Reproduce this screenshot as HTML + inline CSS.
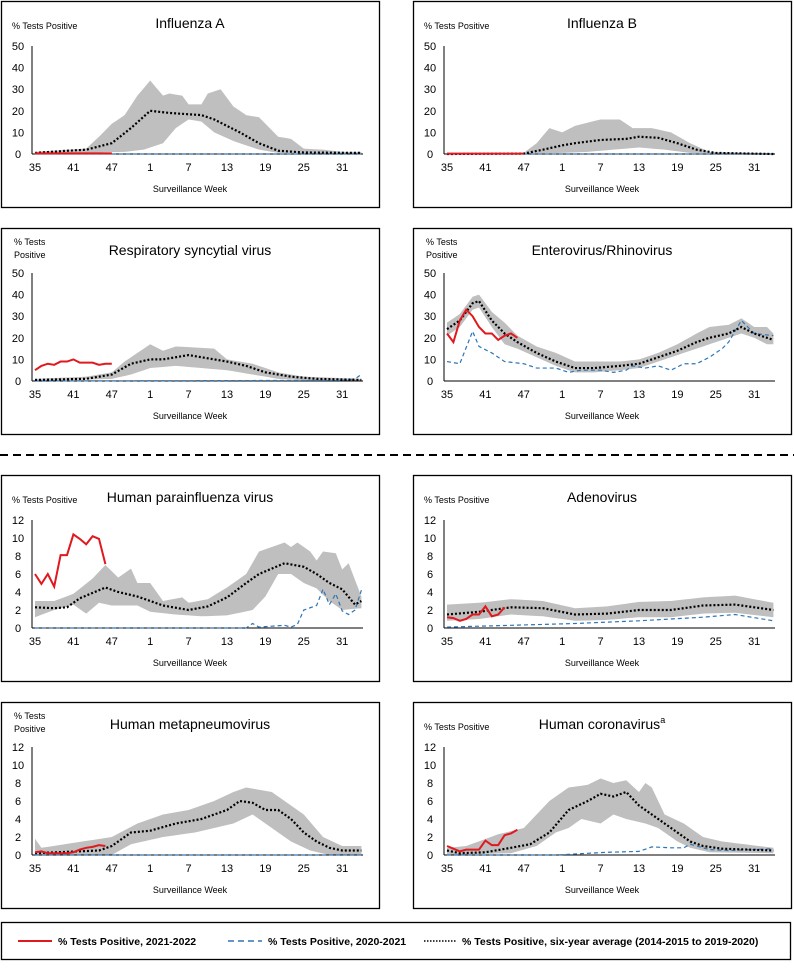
<!DOCTYPE html>
<html><head><meta charset="utf-8"><style>
body{margin:0;background:#fff;width:794px;height:969px;overflow:hidden}
svg{position:absolute;left:0;top:0}
text{font-family:"Liberation Sans",sans-serif}
</style></head><body>
<svg id="s" width="794" height="969" xmlns="http://www.w3.org/2000/svg"></svg>
<script>
const S=document.getElementById('s');let h='';
function interp(k){const a=[];for(let i=0;i<52;i++){let j=0;while(j<k.length-1&&k[j+1][0]<i)j++;const p=k[j],q=k[Math.min(j+1,k.length-1)];if(i<=p[0]){a.push(p[1]);continue}if(i>=q[0]){a.push(q[1]);continue}a.push(p[1]+(q[1]-p[1])*(i-p[0])/(q[0]-p[0]));}return a;}
const labs=['35','41','47','1','7','13','19','25','31'];
function panel(X,T,title,ylab2,max,d){
 h+=`<rect x="${X+1.5}" y="${T+0.5}" width="378" height="206" fill="#fff" stroke="#000" stroke-width="1.3"/>`;
 const base=T+153,top=T+45,x0=X+35,dx=6.4;
 const Y=v=>base-(v/max)*(base-top), Xp=i=>x0+i*dx;
 h+=`<text x="${X+190}" y="${T+27}" font-size="14" text-anchor="middle">${title}</text>`;
 if(ylab2){h+=`<text x="${X+14}" y="${T+17}" font-size="9">% Tests</text><text x="${X+14}" y="${T+30}" font-size="9">Positive</text>`;}
 else h+=`<text x="${X+12}" y="${T+28}" font-size="9">% Tests Positive</text>`;
 const st=max==50?10:2;
 for(let v=0;v<=max;v+=st)h+=`<text x="${X+18}" y="${Y(v)+4}" font-size="11" text-anchor="middle">${v}</text>`;
 labs.forEach((l,k)=>h+=`<text x="${Xp(k*6)}" y="${T+170}" font-size="11" text-anchor="middle">${l}</text>`);
 h+=`<text x="${X+190}" y="${T+191}" font-size="9" text-anchor="middle">Surveillance Week</text>`;
 const hi=interp(d.hi),lo=interp(d.lo),av=interp(d.av);
 let p='';for(let i=0;i<52;i++)p+=`${Xp(i)},${Y(hi[i])} `;for(let i=51;i>=0;i--)p+=`${Xp(i)},${Y(lo[i])} `;
 h+=`<polygon points="${p}" fill="#bfbfbf"/>`;
 h+=`<line x1="${X+32}" y1="${top}" x2="${X+32}" y2="${base}" stroke="#000"/><line x1="${X+32}" y1="${base}" x2="${X+363}" y2="${base}" stroke="#000"/>`;
 const bl=d.bl?interp(d.bl):Array(52).fill(0);
 h+=`<polyline points="${bl.map((v,i)=>Xp(i)+','+Y(v)).join(' ')}" fill="none" stroke="#2e75b6" stroke-width="1.2" stroke-dasharray="4,3"/>`;
 h+=`<polyline points="${av.map((v,i)=>Xp(i)+','+Y(v)).join(' ')}" fill="none" stroke="#000" stroke-width="2.2" stroke-dasharray="2,2"/>`;
 h+=`<polyline points="${d.red.map((v,i)=>Xp(i)+','+Y(v)).join(' ')}" fill="none" stroke="#e0191f" stroke-width="2"/>`;
}
panel(0,1,'Influenza A',0,50,{av:[[0,0.5],[5,1.5],[8,2],[12,5],[15,12],[18,20],[21,19],[26,18],[28,16],[32,10],[35,5],[38,1.5],[42,0.7],[51,0.5]],
hi:[[0,1],[8,2.5],[10,8],[12,14],[14,18],[16,27],[18,34],[20,27],[21,28],[23,27],[24,23],[26,23],[27,28],[29,30],[31,22],[33,18],[35,17],[38,8],[40,7],[42,2.5],[45,2],[48,1],[51,1]],
lo:[[0,0],[14,1],[17,2],[20,5],[22,12],[24,16],[26,15],[28,10],[31,6],[35,2],[38,0.5],[51,0]],red:Array(13).fill(0.3)});
panel(412,1,'Influenza B',0,50,{av:[[0,0],[12,0.2],[15,2],[18,4],[20,5],[24,6.5],[28,7],[30,8],[33,7.5],[36,5],[39,2],[42,0.5],[51,0]],
hi:[[0,0],[12,0.5],[14,5],[16,12],[18,10],[20,13],[24,16],[27,16],[29,12],[32,12],[35,10],[38,5],[41,1],[51,0.3]],
lo:[[0,0],[18,0.5],[22,1],[26,2],[30,3],[34,2],[38,0.5],[51,0]],red:Array(13).fill(0.2)});
panel(0,228,'Respiratory syncytial virus',1,50,{av:[[0,0.5],[8,1],[12,3],[15,8],[18,10],[20,10],[24,12],[26,11],[30,9],[33,7],[36,4],[40,2],[44,1],[51,0.5]],
hi:[[0,1],[8,2],[12,4],[14,9],[18,17],[20,14],[22,16],[28,15],[30,10],[34,8],[38,4],[42,2],[51,1]],
lo:[[0,0],[12,1],[15,3],[18,6],[22,7],[26,6],[30,5],[34,3],[38,1],[44,0],[51,0]],
red:[5,7,8,7.5,9,9,10,8.5,8.5,8.5,7.5,8,8],bl:[[0,0],[48,0.3],[50,1],[51,3]]});
panel(412,228,'Enterovirus/Rhinovirus',1,50,{av:[[0,24],[2,28],[4,36],[5,37],[7,28],[9,22],[11,18],[14,13],[17,9],[20,6],[23,6],[27,7],[30,8],[33,11],[36,14],[39,18],[41,20],[44,22],[46,25],[48,22],[50,20],[51,19]],
hi:[[0,27],[2,31],[4,39],[5,40],[7,32],[9,27],[11,21],[14,16],[17,13],[20,9],[23,9],[27,9],[30,10],[33,13],[36,17],[39,22],[41,25],[44,26],[46,29],[48,25],[50,25],[51,22]],
lo:[[0,21],[2,25],[4,33],[5,34],[7,25],[9,17],[11,15],[14,11],[17,7],[20,4],[23,4],[27,5],[30,6],[33,9],[36,12],[39,15],[41,17],[44,20],[46,22],[48,20],[50,17],[51,17]],
red:[22,18,28,33,30,25,22,22,19,21,22,20],
bl:[[0,9],[2,8],[4,23],[5,16],[7,13],[9,9],[12,8],[14,6],[17,6],[19,4],[21,5],[24,5],[26,4],[28,5],[29,7],[31,6],[33,7],[35,5],[37,8],[39,8],[41,11],[43,15],[44,18],[46,28],[48,22],[51,21]]});
panel(0,475,'Human parainfluenza virus',0,12,{av:[[0,2.3],[3,2.2],[5,2.3],[7,3.3],[11,4.5],[13,4],[16,3.5],[20,2.5],[24,2],[27,2.4],[30,3.4],[33,5],[35,6],[39,7.2],[42,6.8],[44,6],[46,5],[48,4.3],[50,2.6],[51,3]],
hi:[[0,3],[3,3],[6,3.8],[9,5.5],[11,7],[13,5.6],[15,6.6],[16,5],[18,5],[20,3],[23,3.4],[24,2.8],[27,3.2],[30,4.5],[33,6],[35,8.5],[37,9],[39,9.5],[40,9],[41,9.5],[43,8.5],[44,7.5],[45,8.5],[47,8.3],[48,6.5],[49,7.2],[51,3.5]],
lo:[[0,1.2],[3,2],[6,2.6],[8,1.6],[10,2.8],[12,2.5],[16,2.5],[18,1.8],[22,1.5],[26,1.3],[30,1.4],[34,2],[36,3.5],[38,6],[40,6],[42,5],[44,4.4],[46,3],[48,2],[51,2.2]],
red:[6,4.9,6,4.6,8.1,8.1,10.4,9.9,9.3,10.2,9.9,7.1],
bl:[[0,0],[33,0],[34,0.5],[35,0.1],[39,0.3],[40,0.1],[41,0.4],[42,2],[44,2.5],[45,4.3],[46,2.6],[47,3.8],[48,1.9],[49,1.5],[50,2],[51,4.2]]});
panel(412,475,'Adenovirus',0,12,{av:[[0,1.5],[5,1.8],[10,2.3],[15,2.2],[20,1.5],[25,1.6],[30,2],[35,2],[40,2.5],[45,2.6],[51,2]],
hi:[[0,2.6],[5,2.8],[10,3.2],[15,3],[20,2.2],[25,2.4],[30,2.9],[35,3],[40,3.4],[45,3.6],[51,2.8]],
lo:[[0,0.8],[5,1],[10,1.5],[15,1.3],[20,0.8],[25,0.9],[30,1.2],[35,1.2],[40,1.6],[45,1.7],[51,1.2]],
red:[1.2,1.1,0.8,1,1.5,1.5,2.4,1.3,1.5,2.3],bl:[[0,0.1],[10,0.3],[20,0.5],[30,0.8],[40,1.2],[45,1.5],[51,0.8]]});
panel(0,702,'Human metapneumovirus',1,12,{av:[[0,0.2],[10,0.5],[12,1],[15,2.5],[18,2.7],[22,3.5],[26,4],[30,5],[32,6],[34,5.8],[36,5],[38,5],[40,4],[42,2.5],[44,1.5],[46,0.8],[48,0.5],[51,0.5]],
hi:[[0,1.8],[1,0.8],[12,2],[16,3.5],[20,4.5],[24,5],[28,6],[31,7],[33,7.5],[37,7],[40,5.5],[42,4.5],[45,2],[48,1],[51,1]],
lo:[[0,0],[12,0],[15,1.2],[20,2],[25,2.5],[28,3],[31,3.5],[34,4.5],[37,3],[40,1.5],[43,0.5],[46,0],[51,0]],
red:[0.3,0.4,0.2,0.2,0.2,0.2,0.3,0.6,0.8,0.9,1.1,1]});
panel(412,702,'Human coronavirus<tspan font-size="9" dy="-6">a</tspan>',0,12,{av:[[0,0.5],[2,0.2],[6,0.3],[10,0.8],[13,1.2],[16,2.5],[19,5],[22,6],[24,6.8],[26,6.5],[28,7],[30,5.5],[33,4],[36,2.5],[38,1.5],[40,1],[43,0.7],[51,0.5]],
hi:[[0,0.8],[3,1],[8,2.3],[12,3],[16,6],[19,7.5],[22,7.8],[24,8.5],[26,8],[28,8.3],[30,7],[31,8],[32,7.5],[34,4.5],[37,3.5],[40,2],[43,1.5],[51,0.8]],
lo:[[0,0],[10,0.2],[14,1],[17,2.5],[19,3],[21,4],[24,3.5],[26,4.5],[28,4],[31,3.5],[33,3],[36,1.5],[38,0.8],[41,0.3],[51,0.2]],
red:[1,0.7,0.4,0.6,0.6,0.6,1.6,1.1,1.1,2.2,2.4,2.8],
bl:[[0,0],[17,0],[25,0.3],[30,0.4],[32,0.9],[35,0.8],[37,0.8],[38,1.2],[41,0.6],[44,0.5],[51,0.7]]});
h+=`<line x1="0" y1="455" x2="794" y2="455" stroke="#000" stroke-width="2" stroke-dasharray="8,5"/>`;
h+=`<rect x="1.5" y="922.5" width="789" height="37" fill="#fff" stroke="#000" stroke-width="1.3"/>`;
h+=`<line x1="18" y1="941" x2="52" y2="941" stroke="#e0191f" stroke-width="2"/><text x="58" y="945" font-size="10.5" font-weight="bold">% Tests Positive, 2021-2022</text>`;
h+=`<line x1="228" y1="941" x2="262" y2="941" stroke="#2e75b6" stroke-width="1.5" stroke-dasharray="6,4"/><text x="268" y="945" font-size="10.5" font-weight="bold">% Tests Positive, 2020-2021</text>`;
h+=`<line x1="424" y1="941" x2="456" y2="941" stroke="#000" stroke-width="1.5" stroke-dasharray="1.5,1.5"/><text x="462" y="945" font-size="10.5" font-weight="bold">% Tests Positive, six-year average (2014-2015 to 2019-2020)</text>`;
S.innerHTML=h;
</script>
</body></html>
